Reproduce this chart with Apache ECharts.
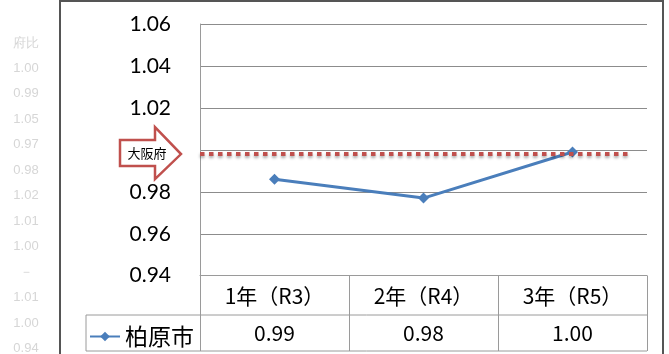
<!DOCTYPE html>
<html>
<head>
<meta charset="utf-8">
<script src="https://cdn.jsdelivr.net/npm/echarts@6/dist/echarts.min.js"></script>
<style>
  html, body { margin: 0; padding: 0; background: #fff; }
  #chart { width: 669px; height: 354px; }
</style>
</head>
<body>
<div id="chart"></div>
<script>
// 柏原市の府比推移（大阪府＝基準線）
const categories = ['1年（R3）', '2年（R4）', '3年（R5）'];
const cityName = '柏原市';
const cityValues = [0.986, 0.977, 0.999];
const osakaName = '大阪府';
const osakaValue = 0.998;
const yTicks = { min: 0.94, max: 1.06, interval: 0.02 };
// faint column of figures printed beside the chart frame
const sideNotes = ['府比', '1.00', '0.99', '1.05', '0.97', '0.98', '1.02', '1.01', '1.00', '－', '1.01', '1.00', '0.94'];

// layout
const GRID = { left: 200, right: 647, top: 24, bottom: 275.7 };
const ROW1 = 315, ROW2 = 351, LEGEND_LEFT = 86;
const W = 669, H = 354;

const chart = echarts.init(document.getElementById('chart'), null, { renderer: 'canvas' });

const gray = '#8c8c8c';
const tableGray = '#9a9a9a';
const jp = '"Noto Sans CJK JP", "Noto Sans", sans-serif';

const sideTexts = sideNotes.map((t, i) => ({
  type: 'text',
  x: 26, y: 43 + i * 25.45,
  style: { text: t, fill: '#d6d6d6', font: '13px "Liberation Sans", sans-serif', align: 'center', verticalAlign: 'middle' },
  silent: true
}));

chart.setOption({
  animation: false,
  backgroundColor: '#fff',
  grid: { left: GRID.left, right: W - GRID.right, top: GRID.top, bottom: H - GRID.bottom, containLabel: false },
  legend: {
    data: [cityName],
    left: 84, top: 320,
    itemWidth: 30, itemHeight: 12, itemGap: 5,
    textStyle: { fontSize: 23, color: '#000', fontFamily: jp }
  },
  xAxis: [
    {
      type: 'category', data: categories, position: 'bottom',
      axisLine: { show: true, lineStyle: { color: tableGray, width: 1 } },
      axisTick: { show: true, alignWithLabel: false, length: ROW2 - GRID.bottom, lineStyle: { color: tableGray, width: 1 } },
      axisLabel: { fontSize: 21, color: '#000', fontFamily: jp, margin: 20, verticalAlign: 'middle' },
      splitLine: { show: false }
    },
    {
      type: 'category', data: cityValues.map(v => v.toFixed(2)), position: 'bottom',
      axisLine: { show: false }, axisTick: { show: false },
      axisLabel: { fontSize: 21, color: '#000', fontFamily: jp, margin: 57, verticalAlign: 'middle' }
    }
  ],
  yAxis: {
    type: 'value', min: yTicks.min, max: yTicks.max, interval: yTicks.interval,
    axisLine: { show: true, lineStyle: { color: tableGray, width: 1 } },
    axisTick: { show: false },
    axisLabel: { fontSize: 21, color: '#000', fontFamily: 'Lato, "Liberation Sans", sans-serif', margin: 29, formatter: v => v.toFixed(2) },
    splitLine: { show: true, lineStyle: { color: gray, width: 1 } }
  },
  series: [{
    name: cityName, type: 'line', data: cityValues,
    symbol: 'diamond', symbolSize: 11,
    lineStyle: { color: '#4a7ebb', width: 3 },
    itemStyle: { color: '#4a7ebb' }
  }],
  graphic: sideTexts
});

// reference line, arrow tag and table frame, positioned through the value scale
const yOsaka = chart.convertToPixel({ yAxisIndex: 0 }, osakaValue);
const arrowY = yOsaka;
chart.setOption({
  graphic: sideTexts.concat([
    // outer frame
    { type: 'rect', shape: { x: 60, y: 1, width: 603, height: 400 }, style: { fill: 'none', stroke: '#555', lineWidth: 2 }, silent: true, z: 10 },
    // table rows
    { type: 'line', shape: { x1: LEGEND_LEFT, y1: ROW1, x2: GRID.right, y2: ROW1 }, style: { stroke: tableGray, lineWidth: 1 }, silent: true },
    { type: 'line', shape: { x1: LEGEND_LEFT, y1: ROW2, x2: GRID.right, y2: ROW2 }, style: { stroke: tableGray, lineWidth: 1 }, silent: true },
    { type: 'line', shape: { x1: LEGEND_LEFT, y1: ROW1, x2: LEGEND_LEFT, y2: ROW2 }, style: { stroke: tableGray, lineWidth: 1 }, silent: true },
    // 大阪府 reference line
    {
      type: 'line', shape: { x1: GRID.left, y1: yOsaka, x2: 630, y2: yOsaka },
      style: { stroke: '#c0504d', lineWidth: 4, lineDash: [4.5, 4.5], shadowColor: 'rgba(0,0,0,0.35)', shadowBlur: 3, shadowOffsetY: 2 },
      silent: true, z: 5
    },
    // arrow tag
    {
      type: 'polygon',
      shape: { points: [[120, arrowY - 14], [155, arrowY - 14], [155, arrowY - 27], [181, arrowY], [155, arrowY + 25], [155, arrowY + 12], [120, arrowY + 12]] },
      style: { fill: '#fff', stroke: '#c0504d', lineWidth: 2.5 },
      silent: true, z: 6
    },
    {
      type: 'text', x: 147, y: arrowY - 1,
      style: { text: osakaName, fill: '#000', font: '13px ' + jp, align: 'center', verticalAlign: 'middle' },
      silent: true, z: 7
    }
  ])
});
</script>
</body>
</html>
